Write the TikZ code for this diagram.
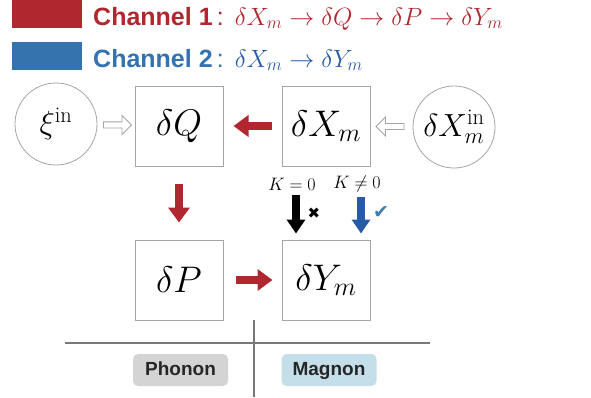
\documentclass[tikz,border=0pt]{standalone}
\usepackage{fix-cm}
\usepackage{fontspec}
\setsansfont{Liberation Sans}
\newfontfamily\symfont{DejaVu Sans}
\usetikzlibrary{arrows.meta,shapes.arrows,positioning}

\definecolor{chred}{RGB}{176,39,47}
\definecolor{chblue}{RGB}{52,115,174}
\definecolor{mathblue}{RGB}{40,90,168}
\definecolor{tickblue}{RGB}{62,123,175}
\definecolor{boxgray}{RGB}{165,165,165}
\definecolor{linegray}{RGB}{120,120,120}
\definecolor{phonongray}{RGB}{212,212,212}
\definecolor{magnonblue}{RGB}{196,223,234}

\begin{document}
\begin{tikzpicture}[x=1pt, y=-1pt,
    var/.style={rectangle, draw=boxgray, line width=1pt, minimum width=88pt, minimum height=80pt, inner sep=0pt, font=\fontsize{37}{40}\selectfont},
    src/.style={circle, draw=boxgray, line width=0.8pt, minimum size=82pt, inner sep=0pt, font=\fontsize{32}{36}\selectfont},
    hollow/.style={single arrow, draw=boxgray, fill=white, line width=0.8pt, minimum height=28pt, minimum width=19pt, single arrow head extend=5pt, inner sep=2pt},
    redarrow/.style={-{Triangle[length=15pt,width=21pt]}, line width=8pt, draw=chred},
    karrow/.style={-{Triangle[length=14pt,width=18pt]}, line width=8pt},
    legendbox/.style={rectangle, minimum width=70pt, minimum height=28pt, inner sep=0pt},
    legendtext/.style={anchor=base west, inner sep=0pt, font=\fontsize{25}{28}\selectfont},
    klabel/.style={font=\fontsize{18}{20}\selectfont, inner sep=1pt},
    tag/.style={rectangle, rounded corners=5pt, minimum width=95pt, minimum height=32pt, inner sep=0pt, text height=14pt, text depth=4pt, text=black!85, font=\sffamily\bfseries\fontsize{19}{22}\selectfont},
    divider/.style={draw=linegray, line width=2.5pt}
]
\useasboundingbox (0,0) rectangle (591,397);

% legend
\node[legendbox, fill=chred] (key1) at (47,14) {};
\node[legendbox, fill=chblue] (key2) at (47,56) {};
\node[legendtext, text=chred] (ch1) at (93,25) {{\sffamily\bfseries Channel 1}\,{\sffamily :}\;\,$\delta X_m \to \delta Q \to \delta P \to \delta Y_m$};
\node[legendtext, text=chblue] (ch2) at (93,67) {{\sffamily\bfseries Channel 2}\,{\sffamily :}\;\,\textcolor{mathblue}{$\delta X_m \to \delta Y_m$}};

% variables
\node[var] (dQ) at (179,126) {$\delta Q$};
\node[var] (dX) at (326,126) {$\delta X_m$};
\node[var] (dP) at (179,280) {$\delta P$};
\node[var] (dY) at (326,280) {$\delta Y_m$};

% inputs
\node[src] (xi) at (56,124) {$\xi^{\mathrm{in}}$};
\node[src] (dXin) at (454,127) {$\delta X_m^{\mathrm{in}}$};
\path (xi) -- (dQ) node[midway, hollow] (inQ) {};
\path (dXin) -- (dX) node[midway, hollow, shape border rotate=180] (inX) {};

% channel 1
\draw[redarrow, shorten <=10pt, shorten >=10pt] (dX) -- (dQ);
\draw[redarrow, shorten <=17pt, shorten >=17pt] (dQ) -- (dP);
\draw[redarrow, shorten <=12pt, shorten >=9pt] (dP) -- (dY);

% channel 2
\node[klabel] (kzero) at (292,184) {$K=0$};
\node[klabel] (knonzero) at (357,184) {$K\neq0$};
\draw[karrow, draw=black, shorten <=4pt, shorten >=6pt] ([xshift=4pt]kzero.south) -- ([xshift=4pt]kzero.south |- dY.north);
\draw[karrow, draw=mathblue, shorten <=4pt, shorten >=6pt] ([xshift=4pt]knonzero.south) -- ([xshift=4pt]knonzero.south |- dY.north);
\node[font=\symfont\fontsize{15}{17}\selectfont, inner sep=0pt] (cross) at (314,213) {✖};
\node[font=\symfont\fontsize{19}{21}\selectfont, text=tickblue, inner sep=0pt] (tick) at (381,213) {✔};

% phonon / magnon split
\coordinate (hl) at (65,343);
\coordinate (hr) at (430,343);
\coordinate (vt) at (254,320);
\coordinate (vb) at (254,397);
\draw[divider] (hl) -- (hr);
\draw[divider] (vt) -- (vb);
\node[tag, fill=phonongray] (phonon) at (180.5,370) {Phonon};
\node[tag, fill=magnonblue] (magnon) at (329,370) {Magnon};

\end{tikzpicture}
\end{document}
